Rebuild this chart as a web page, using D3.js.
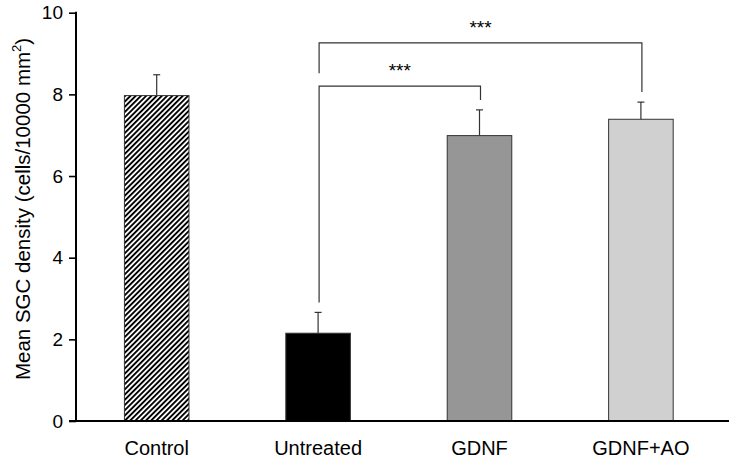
<!DOCTYPE html>
<html>
<head>
<meta charset="utf-8">
<script src="https://cdn.jsdelivr.net/npm/d3@7"></script>
<style>
  html, body { margin: 0; padding: 0; background: #fff; }
  svg { display: block; font-family: Arial, "Liberation Sans", Helvetica, sans-serif; }
</style>
</head>
<body>
<svg id="chart" width="729" height="464"></svg>
<script>
const categories = ["Control", "Untreated", "GDNF", "GDNF+AO"];
const means = [7.97, 2.15, 6.99, 7.39];
const errors = [0.51, 0.51, 0.63, 0.42];
const fills = ["url(#hatch)", "#000000", "#969696", "#d0d0d0"];
const yTicks = [0, 2, 4, 6, 8, 10];
const comparisons = [
  { a: 1, b: 2, label: "***", level: 8.2 },
  { a: 1, b: 3, label: "***", level: 9.26 }
];

const svg = d3.select("#chart");
const x0 = 76, yBottom = 421, yTop = 12.7;

const x = d3.scaleBand().domain(categories).range([x0, 721.6]).paddingInner(0.6).paddingOuter(0.3);
const y = d3.scaleLinear().domain([0, 10]).range([yBottom, yTop]);

const defs = svg.append("defs");
const pat = defs.append("pattern").attr("id", "hatch")
  .attr("patternUnits", "userSpaceOnUse").attr("width", 3.7).attr("height", 3.7)
  .attr("patternTransform", "rotate(45)");
pat.append("rect").attr("width", 3.7).attr("height", 3.7).attr("fill", "#fff");
pat.append("rect").attr("width", 1.9).attr("height", 3.7).attr("fill", "#000");

// bars
const data = categories.map((c, i) => ({ c, m: means[i], e: errors[i], f: fills[i] }));
svg.append("g").selectAll("rect").data(data).join("rect")
  .attr("x", d => x(d.c)).attr("width", x.bandwidth())
  .attr("y", d => y(d.m)).attr("height", d => y(0) - y(d.m))
  .attr("fill", d => d.f).attr("stroke", "#333").attr("stroke-width", 1);

// error bars (upper only)
const eg = svg.append("g").attr("stroke", "#333").attr("stroke-width", 1.2);
data.forEach(d => {
  const cx = x(d.c) + x.bandwidth() / 2;
  eg.append("line").attr("x1", cx).attr("x2", cx).attr("y1", y(d.m)).attr("y2", y(d.m + d.e));
  eg.append("line").attr("x1", cx - 3.5).attr("x2", cx + 3.5).attr("y1", y(d.m + d.e)).attr("y2", y(d.m + d.e));
});

// axes
const yAxis = d3.axisLeft(y).tickValues(yTicks).tickSize(7).tickPadding(6).tickFormat(d3.format("d"));
const ga = svg.append("g").attr("transform", `translate(${x0},0)`).call(yAxis);
ga.select(".domain").remove();
ga.selectAll(".tick line").attr("stroke", "#000").attr("stroke-width", 1.6);
ga.selectAll(".tick text").attr("font-size", 19).attr("fill", "#000").attr("font-family", "Arial, 'Liberation Sans', sans-serif");
svg.append("line").attr("x1", x0).attr("x2", x0).attr("y1", y(10) - 1).attr("y2", y(0) + 1)
  .attr("stroke", "#000").attr("stroke-width", 2);
svg.append("line").attr("x1", x0 - 7).attr("x2", 729).attr("y1", y(0)).attr("y2", y(0))
  .attr("stroke", "#000").attr("stroke-width", 2);

const xAxis = d3.axisBottom(x).tickSize(0).tickPadding(0);
const gx = svg.append("g").attr("transform", `translate(0,${yBottom})`).call(xAxis);
gx.select(".domain").remove();
gx.selectAll(".tick text").attr("font-size", 20).attr("fill", "#000").attr("dy", "1.7em")
  .attr("font-family", "Arial, 'Liberation Sans', sans-serif");

// y label
const yl = svg.append("text").attr("transform", "translate(30,209) rotate(-90)")
  .attr("text-anchor", "middle").attr("font-size", 20.5).attr("fill", "#000");
yl.append("tspan").text("Mean SGC density (cells/10000 mm");
yl.append("tspan").attr("font-size", 13).attr("dy", -9).text("2");
yl.append("tspan").attr("dy", 9).text(")");

// significance brackets
const bg = svg.append("g").attr("stroke", "#333").attr("stroke-width", 1.2).attr("fill", "none");
const cxOf = i => x(categories[i]) + x.bandwidth() / 2 + 1;
const lowerBound = (i, lvl) => {
  let top = y(means[i] + errors[i]) - 10;
  comparisons.forEach(c => {
    if (c.level < lvl && (c.a === i || c.b === i)) top = Math.min(top, y(c.level) - 13);
  });
  return top;
};
comparisons.forEach(c => {
  const xa = cxOf(c.a), xb = cxOf(c.b), yl2 = y(c.level);
  bg.append("path").attr("d",
    `M${xa},${lowerBound(c.a, c.level)}V${yl2}H${xb}V${lowerBound(c.b, c.level)}`);
  svg.append("text").attr("x", (xa + xb) / 2).attr("y", yl2 - 9)
    .attr("text-anchor", "middle").attr("font-size", 19).attr("fill", "#000").text(c.label);
});
</script>
</body>
</html>
